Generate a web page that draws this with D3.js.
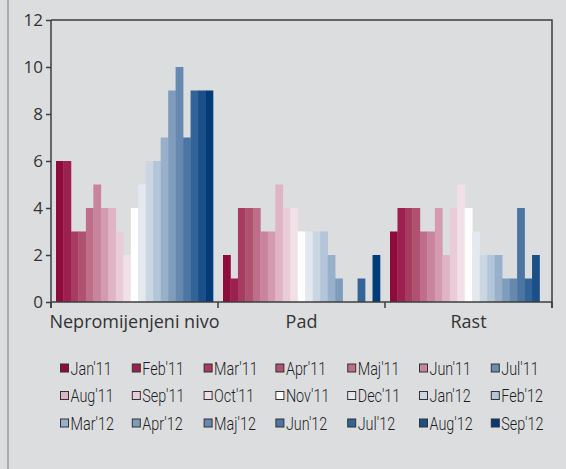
<html>
<head>
  <script src="https://d3js.org/d3.v7.min.js"></script>
  <style>
    body { margin: 0; background: #dcdddf; }
    .axis text { font-family: "Open Sans", sans-serif; fill: #333; }
    .legend text { font-family: "Roboto", sans-serif; font-weight: 300; fill: #1e1e1e; }
  </style>
</head>
<body>
<script>
var width = 566,
    height = 469;

var categories = ["Nepromijenjeni nivo", "Pad", "Rast"];
var series = ["Jan'11", "Feb'11", "Mar'11", "Apr'11", "Maj'11", "Jun'11", "Jul'11",
              "Aug'11", "Sep'11", "Oct'11", "Nov'11", "Dec'11", "Jan'12", "Feb'12",
              "Mar'12", "Apr'12", "Maj'12", "Jun'12", "Jul'12", "Aug'12", "Sep'12"];

// one array per category, values in series order
var nepromijenjeni = [6, 6, 3, 3, 4, 5, 4, 4, 3, 2, 4, 5, 6, 6, 7, 9, 10, 7, 9, 9, 9];
var pad            = [2, 1, 4, 4, 4, 3, 3, 5, 4, 4, 3, 3, 3, 3, 2, 1, 0, 0, 1, 0, 2];
var rast           = [3, 4, 4, 4, 3, 3, 4, 2, 4, 5, 4, 3, 2, 2, 2, 1, 1, 4, 1, 2, 0];
var values = [nepromijenjeni, pad, rast];

var yTicks = [0, 2, 4, 6, 8, 10, 12];

var colors = ["#8e0b3c", "#9c2150", "#a73b62", "#b05170", "#bf6e89", "#c8849d", "#d49aae",
              "#dfb4c4", "#e8ccd7", "#f2e0e7", "#ffffff", "#e4e9f0", "#cbd6e3", "#b3c5d8",
              "#98b0c9", "#7f9cbb", "#6689b0", "#4b76a3", "#326497", "#1b4f88", "#003b7a"];
// legend swatches (Jul'11 is shown blue in the original legend)
var legendColors = colors.slice();
legendColors[6] = "#6a8cb0";

var pLeft = 51, pRight = 552, pTop = 20, pBottom = 302;

var svg = d3.select("body")
  .append("svg")
  .attr("width", width)
  .attr("height", height);

svg.append("line")
  .attr("x1", 8).attr("x2", 8)
  .attr("y1", 0).attr("y2", height)
  .attr("stroke", "#9a9a9a")
  .attr("stroke-width", 1.5);

var x0 = d3.scaleBand()
  .domain(categories)
  .range([pLeft, pRight])
  .padding(0);

var x1 = d3.scaleBand()
  .domain(series)
  .range([5, x0.bandwidth() - 5])
  .padding(0);

var y = d3.scaleLinear()
  .domain([0, 12])
  .range([pBottom, pTop]);

// bars
var groups = svg.append("g").selectAll("g")
  .data(categories)
  .enter()
  .append("g")
  .attr("transform", function(d){ return "translate(" + x0(d) + ",0)"; });

groups.selectAll("rect")
  .data(function(d, i){
    return values[i].map(function(v, j){ return { s: series[j], v: v, c: colors[j] }; });
  })
  .enter()
  .append("rect")
  .attr("x", function(d){ return x1(d.s); })
  .attr("width", x1.bandwidth() + 0.3)
  .attr("y", function(d){ return y(d.v); })
  .attr("height", function(d){ return pBottom - y(d.v); })
  .attr("fill", function(d){ return d.c; });

// frame
var frame = svg.append("g")
  .attr("stroke", "#3d3d3d")
  .attr("stroke-width", 1.5)
  .attr("fill", "none");

frame.append("path")
  .attr("d", "M" + pLeft + "," + pTop + "H" + pRight + "V" + (pBottom + 6));

// y axis
var yAxis = svg.append("g")
  .attr("class", "axis")
  .attr("transform", "translate(" + pLeft + ",0)")
  .call(d3.axisLeft(y).tickValues(yTicks).tickSize(5).tickPadding(3));
yAxis.select(".domain").remove();
yAxis.selectAll("line").attr("stroke", "#3d3d3d").attr("stroke-width", 1.5);
yAxis.selectAll("text").attr("font-size", 17);

frame.append("line")
  .attr("x1", pLeft).attr("x2", pLeft)
  .attr("y1", pTop).attr("y2", pBottom + 6);

// x axis
frame.append("line")
  .attr("x1", pLeft).attr("x2", pRight)
  .attr("y1", pBottom).attr("y2", pBottom);

var bounds = categories.map(function(c){ return x0(c); }).concat([pRight]);
frame.selectAll(".xt")
  .data(bounds)
  .enter()
  .append("line")
  .attr("x1", function(d){ return d; })
  .attr("x2", function(d){ return d; })
  .attr("y1", pBottom)
  .attr("y2", pBottom + 6);

svg.append("g")
  .attr("class", "axis")
  .selectAll("text")
  .data(categories)
  .enter()
  .append("text")
  .attr("x", function(d){ return x0(d) + x0.bandwidth() / 2; })
  .attr("y", pBottom + 26)
  .attr("text-anchor", "middle")
  .attr("font-size", 18)
  .text(function(d){ return d; });

// legend
var legend = svg.append("g").attr("class", "legend");
var item = legend.selectAll("g")
  .data(series)
  .enter()
  .append("g")
  .attr("transform", function(d, i){
    return "translate(" + (60 + (i % 7) * 71.8) + "," + (368 + Math.floor(i / 7) * 27.5) + ")";
  });

item.append("rect")
  .attr("x", 0.5)
  .attr("y", -4)
  .attr("width", 8)
  .attr("height", 8)
  .attr("fill", function(d, i){ return legendColors[i]; })
  .attr("stroke", "#333")
  .attr("stroke-width", 1);

item.append("text")
  .attr("transform", "translate(10.5,6.5) scale(0.8,1)")
  .attr("font-size", 18)
  .text(function(d){ return d; });
</script>
</body>
</html>
